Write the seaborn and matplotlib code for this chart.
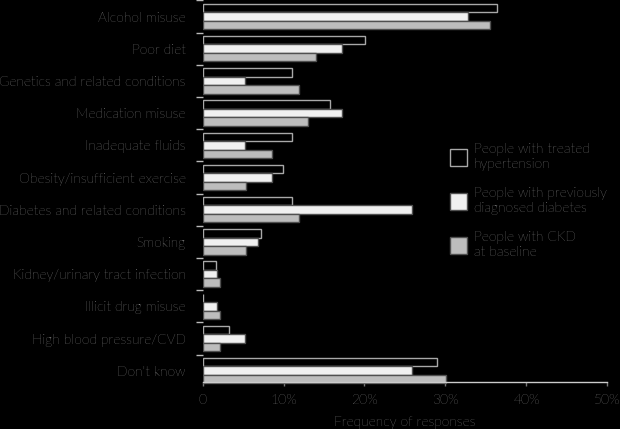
import matplotlib
matplotlib.use("Agg")
import matplotlib.pyplot as plt
import matplotlib.patches as mpatches
import seaborn as sns
import pandas as pd
from matplotlib.ticker import FixedLocator

categories = [
    "Alcohol misuse", "Poor diet", "Genetics and related conditions",
    "Medication misuse", "Inadequate fluids", "Obesity/insufficient exercise",
    "Diabetes and related conditions", "Smoking", "Kidney/urinary tract infection",
    "Illicit drug misuse", "High blood pressure/CVD", "Don't know",
]
series_names = [
    "People with treated\nhypertension",
    "People with previously\ndiagnosed diabetes",
    "People with CKD\nat baseline",
]
hypertension = [36.4, 20.1, 11.0, 15.8, 11.0, 9.9, 11.0, 7.2, 1.7, 0.0, 3.3, 28.9]
diabetes = [32.8, 17.2, 5.2, 17.2, 5.2, 8.6, 25.9, 6.8, 1.8, 1.8, 5.3, 25.9]
ckd = [35.5, 14.0, 11.9, 13.0, 8.6, 5.4, 11.9, 5.4, 2.1, 2.1, 2.1, 30.1]
x_ticks = [0, 10, 20, 30, 40, 50]
x_tick_labels = ["0", "10%", "20%", "30%", "40%", "50%"]

rows = []
for name, vals in zip(series_names, [hypertension, diabetes, ckd]):
    for c, v in zip(categories, vals):
        rows.append({"cause": c, "value": v, "group": name})
df = pd.DataFrame(rows)

sns.set_style("dark")
plt.rcParams["font.family"] = ["Lato", "DejaVu Sans"]
plt.rcParams["font.weight"] = "light"
plt.rcParams["axes.labelweight"] = "light"
txt = "#cfcfcf"
fs = 10

fig = plt.figure(figsize=(6.2, 4.29), dpi=100, facecolor="black")
ax = fig.add_axes([202.5 / 620, 1 - 382 / 429, 405 / 620, 381.6 / 429])
ax.set_facecolor("black")

fills = ["#000000", "#f0f0f0", "#bdbdbd"]
edges = ["#a8a8a8", "#505050", "#505050"]
sns.barplot(data=df, y="cause", x="value", hue="group", orient="h",
            palette=fills, width=0.79, gap=0, ax=ax, legend=False,
            linewidth=1.0)
clip = mpatches.Rectangle((0.12, -2), 60, 16, transform=ax.transData,
                          facecolor="none", edgecolor="none")
for cont, ec in zip(ax.containers, edges):
    for p in cont.patches:
        p.set_edgecolor(ec)
        p.set_linewidth(1.0)
        p.set_clip_path(clip)

ax.set_xlim(0, 50)
ax.set_ylim(11.35, -0.5)
ax.set_xticks(x_ticks)
ax.set_xticklabels(x_tick_labels)
ax.yaxis.set_minor_locator(FixedLocator([i + 0.5 for i in range(-1, 12)]))
ax.tick_params(axis="y", which="major", length=0, pad=12, labelsize=fs, labelcolor=txt)
ax.tick_params(axis="y", which="minor", length=5, width=1, color="#bbbbbb", left=True)
ax.tick_params(axis="x", which="major", length=3, width=1, color="#777777",
               labelsize=fs, labelcolor=txt, pad=6, bottom=True)
ax.set_ylabel("")
ax.set_xlabel("Frequency of responses", color=txt, fontsize=fs, labelpad=6,
              fontweight="light")
ax.grid(False)
for s in ["left", "top", "right"]:
    ax.spines[s].set_visible(False)
ax.spines["bottom"].set_visible(True)
ax.spines["bottom"].set_color("#cccccc")
ax.spines["bottom"].set_linewidth(1.0)

lh = [mpatches.Patch(facecolor=f, edgecolor=e, linewidth=1.0) for f, e in zip(fills, edges)]
leg = ax.legend(lh, series_names, loc="upper left", bbox_to_anchor=(0.611, 0.627),
                frameon=False, fontsize=fs, labelcolor=txt, handlelength=1.2,
                handleheight=1.5, handletextpad=0.5, labelspacing=1.15,
                borderpad=0, borderaxespad=0)

fig.savefig("out.png", dpi=100, facecolor="black")
